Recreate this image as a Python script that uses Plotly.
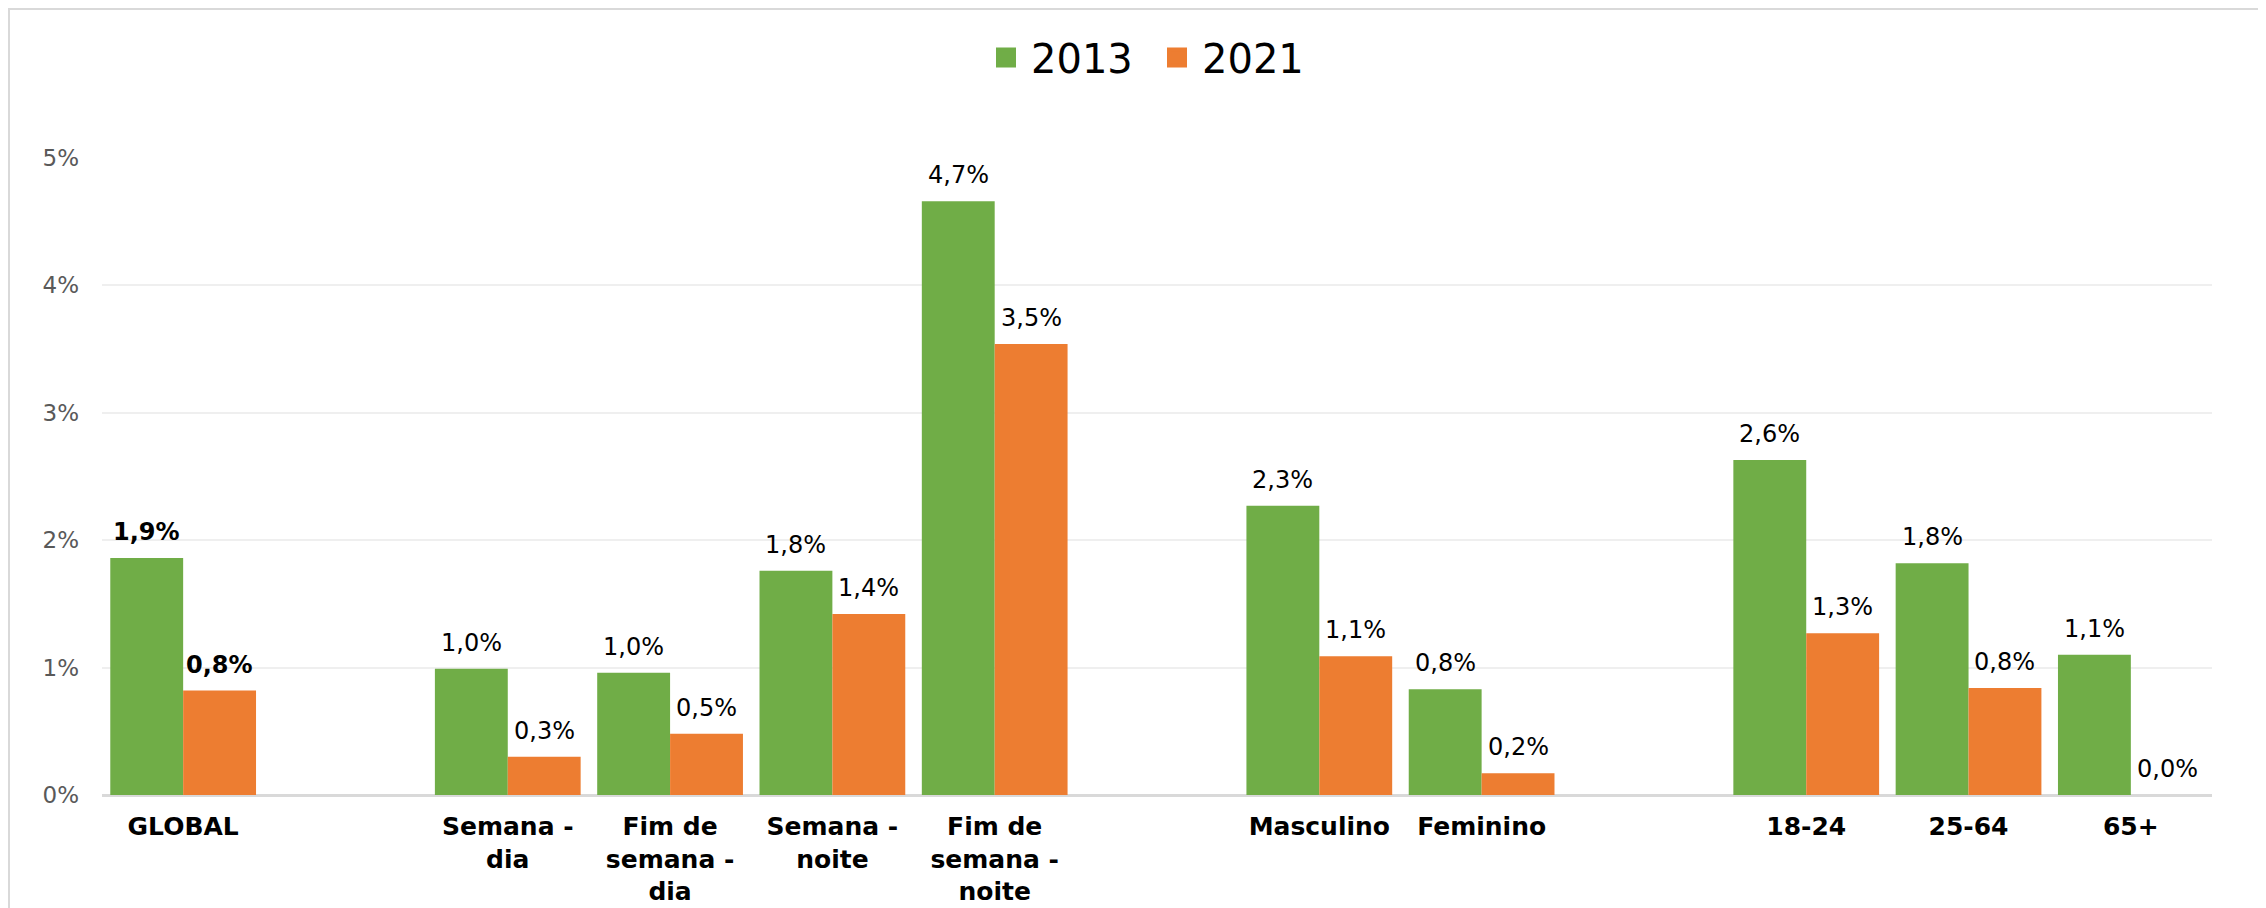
import plotly.graph_objects as go

# ---- data ----
groups = [
    ["GLOBAL"],
    ["Semana -<br>dia", "Fim de<br>semana -<br>dia", "Semana -<br>noite", "Fim de<br>semana -<br>noite"],
    ["Masculino", "Feminino"],
    ["18-24", "25-64", "65+"],
]
series_names = ["2013", "2021"]
values_2013 = [1.86, 0.99, 0.96, 1.76, 4.66, 2.27, 0.83, 2.63, 1.82, 1.10]
values_2021 = [0.82, 0.30, 0.48, 1.42, 3.54, 1.09, 0.17, 1.27, 0.84, 0.0]
bold_categories = ["GLOBAL"]
y_ticks = [0, 1, 2, 3, 4, 5]
y_tick_labels = ["0%", "1%", "2%", "3%", "4%", "5%"]

colors = {"2013": "#70AD47", "2021": "#ED7D31"}
FONT = "DejaVu Sans"

# build category axis with blank spacer slots between groups
categories = []
for gi, g in enumerate(groups):
    if gi > 0:
        categories.append(" " * gi)
    categories.extend(g)
real_cats = [c for g in groups for c in g]


def expand(vals):
    m = dict(zip(real_cats, vals))
    return [m.get(c) for c in categories]


def label(v, c):
    s = f"{v:.1f}".replace(".", ",") + "%"
    return f"<b>{s}</b>" if c in bold_categories else s


# ---- layout geometry (figure pixels) ----
W, H = 2258, 900
L, R, T, B = 94, 54, 150, 113
pw, ph = W - L - R, H - T - B
BARGAP = 0.102
slot = pw / len(categories)
half_offset = slot * (1 - BARGAP) / 4  # distance from slot centre to each bar centre

fig = go.Figure()
annotations = []
for si, (name, vals) in enumerate(zip(series_names, [values_2013, values_2021])):
    ys = expand(vals)
    fig.add_trace(go.Bar(
        x=categories, y=ys, name=name,
        marker=dict(color=colors[name], line=dict(width=0)),
        showlegend=False,
        hoverinfo="skip",
    ))
    # legend proxy
    fig.add_trace(go.Scatter(
        x=[None], y=[None], mode="markers", name=name,
        marker=dict(symbol="square", size=16, color=colors[name],
                    line=dict(color=colors[name], width=4)),
        showlegend=True,
    ))
    for c, v in zip(real_cats, vals):
        annotations.append(dict(
            x=c, y=v, xref="x", yref="y",
            xshift=(-1 if si == 0 else 1) * half_offset, yshift=10,
            yanchor="bottom", xanchor="center", showarrow=False,
            text=label(v, c),
            font=dict(family=FONT, size=24, color="#000000"),
        ))

fig.update_layout(
    width=W, height=H,
    margin=dict(l=L, r=R, t=T, b=B, autoexpand=False),
    paper_bgcolor="white", plot_bgcolor="white",
    barmode="group", bargap=BARGAP, bargroupgap=0,
    font=dict(family=FONT),
    legend=dict(
        orientation="h", xref="container", x=1144 / W, xanchor="center",
        yref="container", y=1 - 17 / H, yanchor="top",
        font=dict(family=FONT, size=40, color="#000000"),
        itemwidth=40, tracegroupgap=0,
        entrywidth=116, entrywidthmode="pixels",
    ),
    showlegend=True,
    xaxis=dict(
        type="category", categoryorder="array", categoryarray=categories,
        tickfont=dict(family=FONT, size=25, color="#000000", weight="bold"),
        showgrid=False, showline=False, ticks="", ticklabelstandoff=14,
        range=[-0.5, len(categories) - 0.5], automargin=False,
    ),
    yaxis=dict(
        range=[0, 5], tickvals=y_ticks, ticktext=y_tick_labels,
        tickfont=dict(family=FONT, size=23, color="#595959"),
        showgrid=True, gridcolor="#EFEFEF", gridwidth=2,
        zeroline=True, zerolinecolor="#D9D9D9", zerolinewidth=3,
        showline=False, ticks="", ticklabelstandoff=22, automargin=False,
    ),
    annotations=annotations,
    shapes=[dict(
        type="rect", xref="paper", yref="paper",
        x0=(1 - L) / pw, x1=(2252 - L) / pw,
        y0=(H - B - 1000) / ph, y1=(H - B - 1) / ph,
        line=dict(color="#D9D9D9", width=2), fillcolor="rgba(0,0,0,0)", layer="below",
    )],
)

fig.write_html("out.html")
